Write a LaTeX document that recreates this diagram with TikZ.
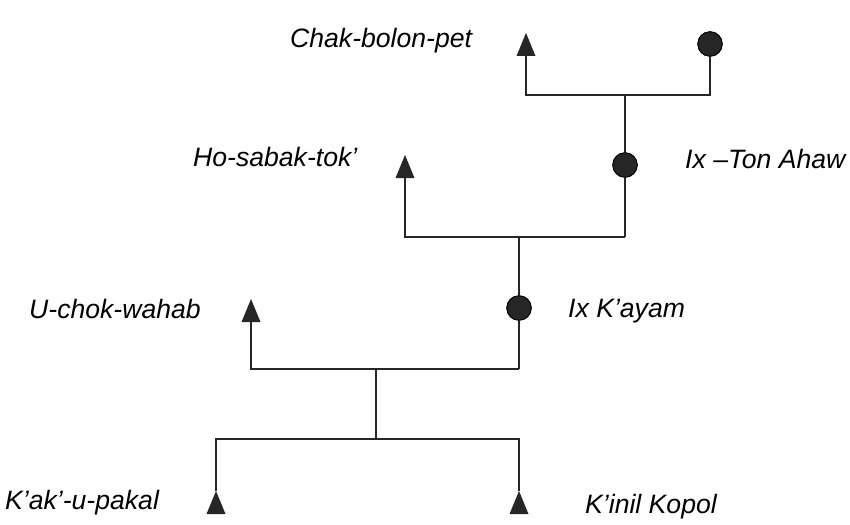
\documentclass[tikz,border=0pt]{standalone}
\usepackage{fontspec}
\setmainfont{Liberation Sans}
\tikzset{
  lbl/.style={anchor=base west, inner sep=0pt, font=\fontsize{26.6}{30}\selectfont\itshape},
  femnode/.style={circle, fill=black!85, draw=black, line width=0.8pt, minimum size=24.5pt, inner sep=0pt},
  kin/.style={line width=2.6pt, black!85},
}
\newcommand{\maletri}[2]{\fill[black!85] (#1,#2) -- ++(-9.5,0) -- ++(9.5,-23) -- ++(9.5,23) -- cycle;}
\begin{document}
\begin{tikzpicture}[x=1pt,y=-1pt]
\useasboundingbox[fill=white] (0,0) rectangle (850,524);
% coordinates
\coordinate (tb1) at (526,55);
\coordinate (tb2) at (405,177);
\coordinate (tb3) at (251,321);
\coordinate (ta4) at (216,491);
\coordinate (ta5) at (519,491);
\coordinate (j1) at (625,95);
\coordinate (j2) at (519,237);
\coordinate (j3) at (376,369);
\coordinate (j4) at (376,439);
\coordinate (e2) at (625,237);
\coordinate (e3) at (519,369);
% circles (female)
\node[femnode] (c1) at (710,44) {};
\node[femnode] (c2) at (625,165) {};
\node[femnode] (c3) at (519,308) {};
% lines
\draw[kin] (tb1) |- (j1) -| (c1.south);
\draw[kin] (j1) -- (c2) -- (e2);
\draw[kin] (tb2) |- (j2) -- (e2);
\draw[kin] (j2) -- (c3) -- (e3);
\draw[kin] (tb3) |- (j3) -- (e3);
\draw[kin] (j3) -- (j4);
\draw[kin] (ta4) |- (j4) -| (ta5);
% redraw circles on top
\node[femnode] at (c1) {};
\node[femnode] at (c2) {};
\node[femnode] at (c3) {};
% triangles (male)
\maletri{526}{56}
\maletri{405}{178}
\maletri{251}{322}
\maletri{216}{514}
\maletri{519}{514}
% labels
\node[lbl] (l1) at (290,48) {Chak-bolon-pet};
\node[lbl] (l2) at (193,166) {Ho-sabak-tok’};
\node[lbl] (l3) at (685,168) {Ix –Ton Ahaw};
\node[lbl] (l4) at (29,318) {U-chok-wahab};
\node[lbl] (l5) at (568,317) {Ix K’ayam};
\node[lbl] (l6) at (5,509) {K’ak’-u-pakal};
\node[lbl] (l7) at (585,513) {K’inil Kopol};
\end{tikzpicture}
\end{document}
